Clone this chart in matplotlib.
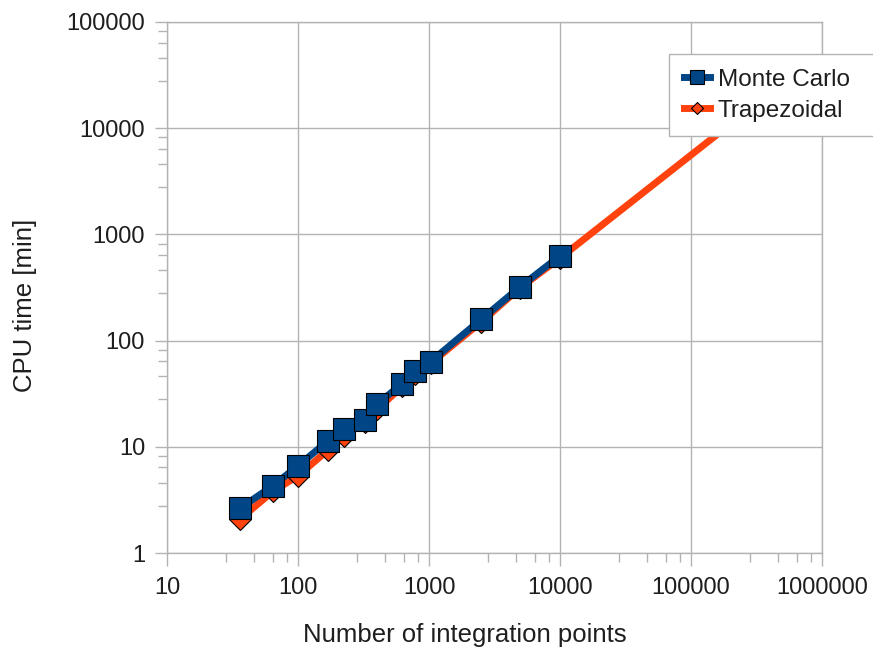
import matplotlib
matplotlib.use("Agg")
import matplotlib.pyplot as plt
from matplotlib.ticker import FixedLocator, NullFormatter

plt.rcParams['font.family'] = ['Liberation Sans', 'DejaVu Sans']

# number of integration points / CPU time in minutes
mc_points = [36, 64, 100, 169, 225, 324, 400, 625, 784, 1024, 2500, 4900, 10000]
mc_time = [2.64, 4.30, 6.64, 11.4, 14.7, 17.9, 25.3, 39.3, 51.4, 63.3, 158.6, 317.6, 630]

trap_points = [36, 64, 100, 169, 225, 324, 400, 625, 784, 1024, 2500, 4900, 10000, 250000]
trap_time = [2.09, 3.8, 5.35, 9.33, 12.7, 17.2, 22.5, 37.1, 48.5, 61.0, 150, 311, 600, 13600]

x_major = [10, 100, 1000, 10000, 100000, 1000000]
y_major = [1, 10, 100, 1000, 10000, 100000]

blue = '#004586'
orange = '#ff420e'
grey = '#b3b3b3'
txt = '#1e1e1e'

fig = plt.figure(figsize=(8.73, 6.52), dpi=100)
ax = fig.add_axes([0.1916, 0.1518, 0.75, 0.8145])

ax.plot(trap_points, trap_time, color=orange, lw=5, marker='D', markersize=11,
        markerfacecolor=orange, markeredgecolor='black', markeredgewidth=0.8,
        label='Trapezoidal', zorder=3)
ax.plot(mc_points, mc_time, color=blue, lw=5, marker='s', markersize=16.5,
        markerfacecolor=blue, markeredgecolor='black', markeredgewidth=0.8,
        label='Monte Carlo', zorder=4)

ax.set_xscale('log')
ax.set_yscale('log')
ax.set_xlim(10, 1000000)
ax.set_ylim(1, 100000)

# minor ticks split each decade into five equal linear steps
def minor_ticks(major):
    return [d * (1 + 1.8 * k) for d in major[:-1] for k in range(1, 5)]

ax.xaxis.set_major_locator(FixedLocator(x_major))
ax.yaxis.set_major_locator(FixedLocator(y_major))
ax.xaxis.set_minor_locator(FixedLocator(minor_ticks(x_major)))
ax.yaxis.set_minor_locator(FixedLocator(minor_ticks(y_major)))
ax.xaxis.set_minor_formatter(NullFormatter())
ax.yaxis.set_minor_formatter(NullFormatter())
ax.set_xticklabels([str(v) for v in x_major])
ax.set_yticklabels([str(v) for v in y_major])

ax.tick_params(which='major', length=9, width=1, color=grey, labelsize=17,
               labelcolor=txt, pad=7)
ax.tick_params(which='minor', length=6.7, width=1, color=grey)
ax.tick_params(axis='x', which='major', pad=8)

ax.grid(True, which='major', color=grey, lw=1)
ax.set_axisbelow(True)
for s in ax.spines.values():
    s.set_color(grey)
    s.set_linewidth(1)

xl = ax.set_xlabel('Number of integration points', fontsize=18.5, color=txt)
yl = ax.set_ylabel('CPU time [min]', fontsize=18.5, color=txt)
xl.set_va('center')
yl.set_va('center')
ax.xaxis.set_label_coords(0.455, -0.154)
ax.yaxis.set_label_coords(-0.217, 0.467)

# legend box runs out to the right edge of the figure
handles, labels = ax.get_legend_handles_labels()
leg = fig.legend(handles[::-1], labels[::-1], loc='upper left',
                 bbox_to_anchor=(669 / 873, 1 - 140 / 652, 206 / 873, 86 / 652),
                 bbox_transform=fig.transFigure, mode='expand',
                 fontsize=17.5, frameon=True, fancybox=False, framealpha=1,
                 edgecolor=grey, markerscale=0.6, handlelength=1.1,
                 handletextpad=0.3, borderaxespad=0, borderpad=0.6,
                 labelspacing=0.38)
leg.get_frame().set_linewidth(1)
for t in leg.get_texts():
    t.set_color(txt)

fig.savefig('out.png', dpi=100)
